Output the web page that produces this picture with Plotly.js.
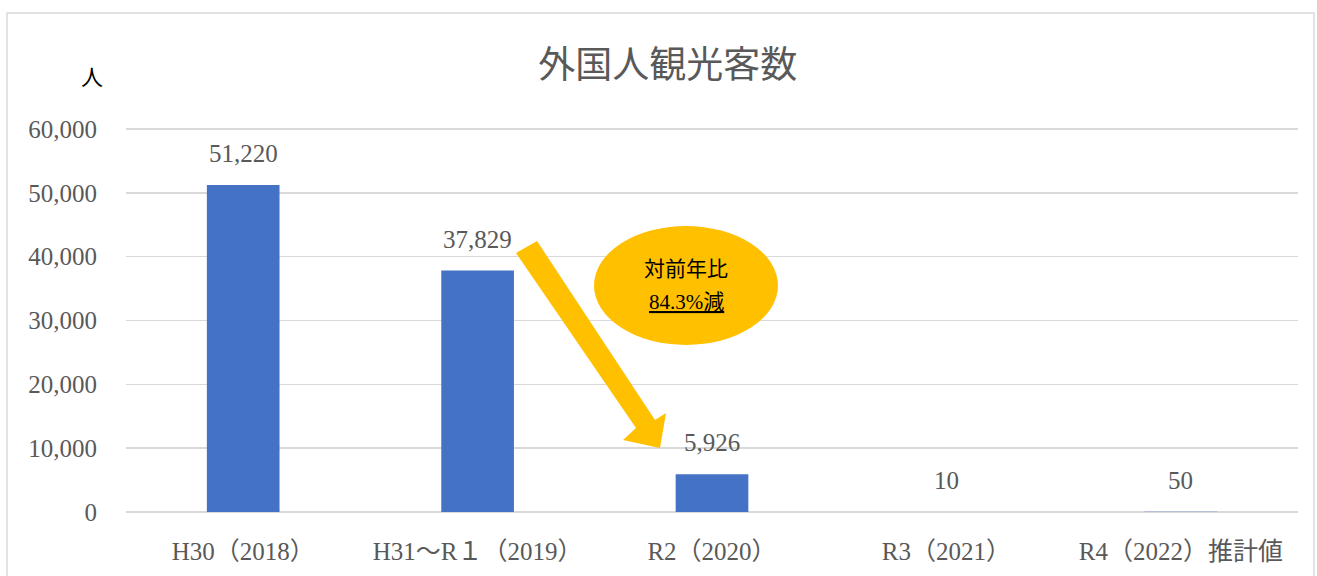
<!DOCTYPE html>
<html><head><meta charset="utf-8">
<script src="https://cdn.plot.ly/plotly-3.0.1.min.js"></script>
<style>html,body{margin:0;padding:0;background:#fff}#chart{width:1317px;height:576px}</style>
</head><body><div id="chart"></div>
<script>
const categories = ["H30（2018）", "H31～R１（2019）", "R2（2020）", "R3（2021）", "R4（2022）推計値"];
const visitors = [51220, 37829, 5926, 10, 50];
const yTicks = [0, 10000, 20000, 30000, 40000, 50000, 60000];
const yTickLabels = ["0", "10,000", "20,000", "30,000", "40,000", "50,000", "60,000"];
const calloutLines = ["対前年比", "84.3%減"];

const W = 1317, H = 576;
const PAD = 300; // range padding so edge gridlines are drawn
const M = {l: 126, r: 19, t: 127, b: 62};
const PW = W - M.l - M.r, PH = H - M.t - M.b;
const px = x => (x - M.l) / PW;
const py = y => (H - M.b - y) / PH;
const FONT = '"Liberation Serif", "Noto Sans CJK JP", serif';
const GREY = '#595959';

const fmt = v => v.toLocaleString('en-US');

const labelAnns = categories.map((c, i) => ({
  x: c, y: visitors[i], xref: 'x', yref: 'y', text: fmt(visitors[i]),
  showarrow: false, xanchor: 'center', yanchor: 'bottom', yshift: 16,
  font: {family: FONT, size: 25, color: GREY}
}));

// arrow outline (pixel -> paper)
const arrowPts = [[516,253],[537,241],[655,420],[666,413],[660,448],[623,440],[636,428]];
const arrowPath = 'M ' + arrowPts.map(p => px(p[0]) + ',' + py(p[1])).join(' L ') + ' Z';

const data = [{
  type: 'bar', x: categories, y: visitors,
  marker: {color: '#4472C4'}, hoverinfo: 'none'
}];

const layout = {
  width: W, height: H,
  margin: M,
  paper_bgcolor: '#fff', plot_bgcolor: '#fff',
  bargap: 0.69,
  showlegend: false,
  font: {family: FONT, color: GREY},
  title: {text: '外国人観光客数', x: 0.507, xref: 'container', xanchor: 'center',
          y: 1 - 65 / H, yref: 'container', yanchor: 'middle',
          font: {family: FONT, size: 37, color: GREY}},
  xaxis: {type: 'category', showgrid: false, zeroline: false, showline: false, ticks: '',
          ticklabelstandoff: 20,
          tickfont: {family: FONT, size: 25, color: GREY}, ticklen: 0, automargin: false},
  yaxis: {range: [-PAD, 60000 + PAD], tickvals: yTicks, ticktext: yTickLabels, showgrid: true,
          gridcolor: '#d9d9d9', gridwidth: 1.5, zeroline: false, showline: false, ticks: '',
          ticklabelstandoff: 28, tickfont: {family: FONT, size: 25, color: GREY}, automargin: false},
  shapes: [
    {type: 'rect', xref: 'paper', yref: 'paper', x0: px(7), x1: px(1314), y0: py(590), y1: py(13),
     line: {color: '#d9d9d9', width: 1.5}, fillcolor: 'rgba(0,0,0,0)', layer: 'below'},
    {type: 'path', xref: 'paper', yref: 'paper', path: arrowPath, fillcolor: '#FFC000', line: {width: 0}},
    {type: 'circle', xref: 'paper', yref: 'paper', x0: px(594), x1: px(778), y0: py(345), y1: py(226),
     fillcolor: '#FFC000', line: {width: 0}}
  ],
  annotations: labelAnns.concat([
    {xref: 'paper', yref: 'paper', x: px(92), y: py(78), text: '人', showarrow: false,
     xanchor: 'center', yanchor: 'middle', font: {family: FONT, size: 22, color: '#000'}},
    {xref: 'paper', yref: 'paper', x: px(686), y: py(269), text: calloutLines[0], showarrow: false,
     xanchor: 'center', yanchor: 'middle', font: {family: FONT, size: 21, color: '#000'}},
    {xref: 'paper', yref: 'paper', x: px(686), y: py(302), text: '<u>' + calloutLines[1] + '</u>', showarrow: false,
     xanchor: 'center', yanchor: 'middle', font: {family: FONT, size: 21, color: '#000'}}
  ])
};

Plotly.newPlot('chart', data, layout, {displayModeBar: false, staticPlot: true});
</script></body></html>
